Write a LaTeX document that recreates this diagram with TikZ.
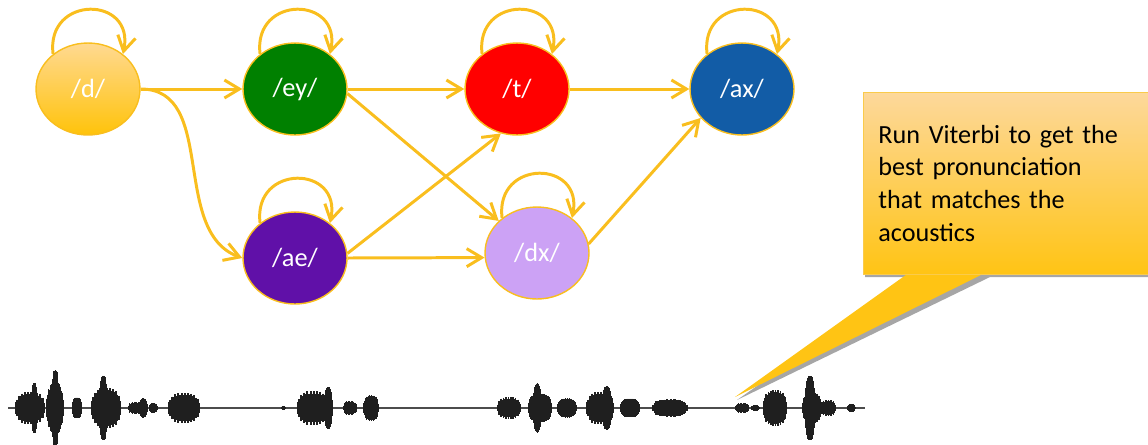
\documentclass[tikz,border=0pt]{standalone}
\usepackage{fontspec}
\setmainfont{Carlito}
\usetikzlibrary{arrows.meta,shapes.geometric}
\definecolor{gold}{RGB}{249,190,30}
\definecolor{dtop}{RGB}{255,217,145}
\definecolor{dbot}{RGB}{255,195,10}
\definecolor{eyc}{RGB}{0,128,0}
\definecolor{tc}{RGB}{255,0,0}
\definecolor{axc}{RGB}{18,92,166}
\definecolor{aec}{RGB}{96,16,168}
\definecolor{dxc}{RGB}{204,162,245}
\definecolor{ntop}{RGB}{253,216,155}
\definecolor{nbot}{RGB}{255,196,20}
\tikzset{ph/.style={draw=gold,line width=0.8pt,ellipse,minimum width=2.08cm,minimum height=1.84cm,inner sep=0pt,text=white,font=\fontsize{15}{17}\selectfont},
 ar/.style={draw=gold,line width=1.7pt,-{Straight Barb[length=3mm,width=3.6mm]}},
 sl/.style={ar,out=97,in=78,looseness=2.2},
 nt/.style={draw=gold!80,line width=0.5pt,top color=ntop,bottom color=nbot,anchor=north west,minimum width=5.94cm,minimum height=3.64cm,text width=5.34cm,inner xsep=0.3cm,align=left,font=\fontsize{14.9}{18.7}\selectfont},
 wv/.style={draw=black!88}}

\begin{document}
\begin{tikzpicture}[x=0.02cm,y=0.02cm]
\useasboundingbox (0,0) rectangle (1148,-444);
% phone network
\node[ph,top color=dtop,bottom color=dbot](d) at (88,-89){/d/};\node[ph,fill=eyc](ey) at (295,-89){/ey/};
\node[ph,fill=tc](t) at (517,-89){/t/};\node[ph,fill=axc](ax) at (742,-89){/ax/};
\node[ph,fill=aec](ae) at (295,-258){/ae/};\node[ph,fill=dxc](dx) at (537,-253){/dx/};
\draw[sl](d.135)to(d.45);\draw[sl](ey.135)to(ey.45);\draw[sl](t.135)to(t.45);\draw[sl](ax.135)to(ax.45);\draw[sl](ae.135)to(ae.45);\draw[sl](dx.135)to(dx.45);
\draw[ar](d)--(ey);\draw[ar](d.east)to[out=0,in=160](ae.west);
\draw[ar](ey)--(t);\draw[ar](ey.-5)--(dx.140);\draw[ar](ae.5)--(t.-110);\draw[ar](ae.east)--(dx.185);
\draw[ar](t)--(ax);\draw[ar](dx.10)--(ax.215);
% callout
\fill[black!35](865,-95)--(1160,-95)--(1160,-277)--(990,-277)--(737,-400)--(912,-277)--(865,-277)--cycle;
\fill[nbot](910,-272)--(735,-397)--(987,-272)--cycle;
\node[nt](note) at (863,-92){Run Viterbi to get the\\best pronunciation\\that matches the\\acoustics};
% waveform
\draw[black!70,line width=0.6pt](8,-408)--(865,-408);
\foreach \x/\w/\h in {30/15/16,34/3/25,55/9/25,55/4/38,77/5/11,106/15/20,103/4/34,135/7/6,143/4/10,153/4/5,184/16/15,283/2/2,
 313/16/17,328/4/21,350/7/7,371/8/13,509/12/11,540/12/15,537/4/25,567/10/10,600/14/16,607/5/22,630/10/10,670/18/9,
 742/7/5,755/4/3,775/12/18,812/10/16,810/5/34,828/8/8,851/4/4}
 \foreach \u in {-0.95,-0.85,...,0.96}{
  \pgfmathsetmacro\hh{\h*sqrt(1-abs(\u)^3)*(0.8+0.2*abs(sin(\u*900+\x*7)))}
  \draw[wv,line width=\w*0.024mm](\x+\u*\w,-408+\hh)--(\x+\u*\w,-408-\hh);}
\end{tikzpicture}
\end{document}
